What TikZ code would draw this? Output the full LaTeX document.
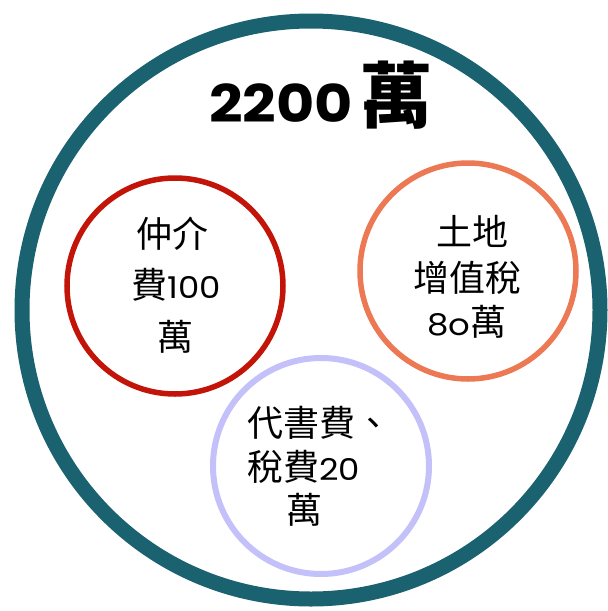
\documentclass[tikz,border=0pt]{standalone}
\usepackage{fontspec}
\newfontfamily\cjk{Noto Sans CJK TC}
\newfontfamily\dg[FakeStretch=1.13]{Poppins}
\definecolor{tealc}{RGB}{27,98,112}
\definecolor{redc}{RGB}{194,20,8}
\definecolor{orangec}{RGB}{236,121,84}
\definecolor{lavc}{RGB}{196,192,250}
\newcommand{\cjks}{\cjk\fontsize{36}{36}\selectfont}
\newcommand{\dgs}{\dg\fontsize{30}{30}\selectfont}
\begin{document}
\begin{tikzpicture}[x=1pt,y=-1pt,
  ring/.style={circle,draw,inner sep=0pt,outer sep=0pt},
  lbl/.style={inner sep=0pt,outer sep=0pt,text=black}]
\useasboundingbox (0,0) rectangle (608,611);
\fill[white] (0,0) rectangle (608,611);
\node[ring,draw=tealc,line width=15pt,minimum size=578pt] (outer) at (311,310) {};
\node[ring,draw=redc,line width=5.5pt,minimum size=216pt] (red) at (175,286) {};
\node[ring,draw=orangec,line width=5.5pt,minimum size=216pt] (orange) at (468,271) {};
\node[ring,draw=lavc,line width=6pt,minimum size=216pt] (lav) at (321,466) {};
% title
\node[lbl,anchor=base west] (title) at (209,122)
  {\dg\bfseries\fontsize{52}{52}\selectfont 2200};
\node[lbl] (titlewan) at (396,95) {\cjk\bfseries\fontsize{72}{72}\selectfont 萬};
% red
\node[lbl] (r1) at (172,234) {\cjks 仲介};
\node[lbl] (r2) at (176,285) {{\cjks 費}{\dgs 100}};
\node[lbl] (r3) at (175,337) {\cjks 萬};
% orange
\node[lbl] (o1) at (472,231) {\cjks 土地};
\node[lbl] (o2) at (467,278) {\cjks 增值稅};
\node[lbl] (o3) at (467,322) {{\dgs 8o}{\cjks 萬}};
% lavender
\node[lbl,anchor=west] (l1) at (247,423) {\cjks 代書費、};
\node[lbl,anchor=west] (l2) at (247,467) {{\cjks 稅費}{\dgs 20}};
\node[lbl] (l3) at (304,510) {\cjks 萬};
\end{tikzpicture}
\end{document}
